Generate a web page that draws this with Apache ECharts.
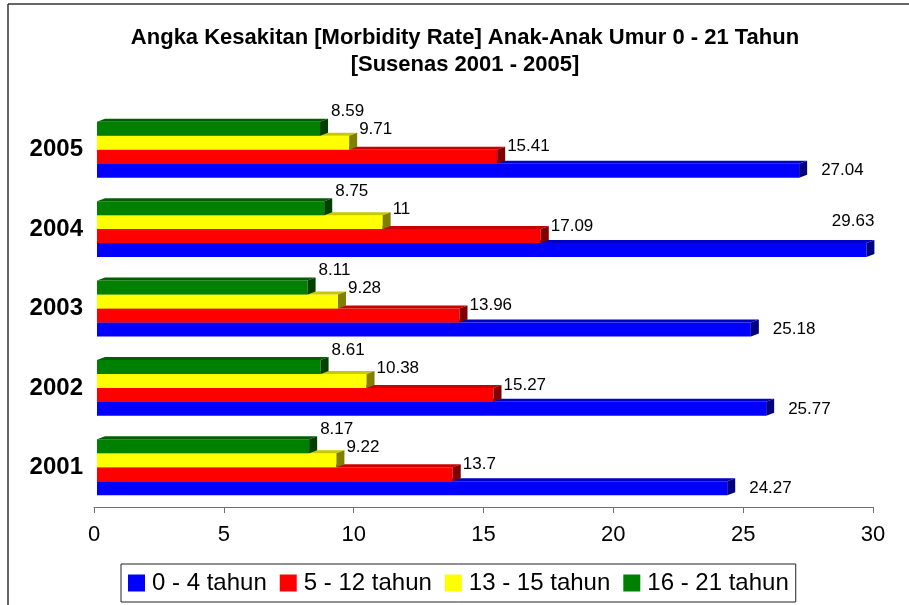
<!DOCTYPE html>
<html>
<head>
<meta charset="utf-8">
<script src="https://cdn.jsdelivr.net/npm/echarts@6/dist/echarts.min.js"></script>
<style>
  html, body { margin: 0; padding: 0; background: #fff; }
  #chart { width: 909px; height: 605px; }
</style>
</head>
<body>
<div id="chart"></div>
<script>
// data
const years = ['2001', '2002', '2003', '2004', '2005']
const ageGroups = ['0 - 4 tahun', '5 - 12 tahun', '13 - 15 tahun', '16 - 21 tahun']
const age0to4 = [24.27, 25.77, 25.18, 29.63, 27.04]
const age5to12 = [13.7, 15.27, 13.96, 17.09, 15.41]
const age13to15 = [9.22, 10.38, 9.28, 11, 9.71]
const age16to21 = [8.17, 8.61, 8.11, 8.75, 8.59]
const xTicks = { min: 0, max: 30, interval: 5 }

const FONT = '"Liberation Sans", Arial, sans-serif'
const palette = [
  { front: '#0000ff', top: '#0000c8', side: '#000080' },
  { front: '#ff0000', top: '#c80000', side: '#800000' },
  { front: '#ffff00', top: '#c8c800', side: '#808000' },
  { front: '#008000', top: '#006000', side: '#004000' }
]
// label offset from bar end, per series (like excel put them)
const labelShift = [[22, 0], [10, -10], [10, -13], [11, -17]]
const DX = 8
const DY = 3

function bar3d(k) {
  return function (params, api) {
    const cat = api.value(1)
    const v = api.value(0)
    const p0 = api.coord([0, cat])
    const p1 = api.coord([v, cat])
    const band = api.size([0, 1])[1]
    const h = band * 0.176
    const yb = p0[1] + 2 * h - k * h
    const yt = yb - h
    const x0 = p0[0] + 3
    const x1 = p1[0] + 3
    const c = palette[k]
    let lx = x1 + labelShift[k][0]
    let ly = (yt + yb) / 2 + labelShift[k][1]
    let align = 'left'
    if (lx + 44 > api.getWidth() - 4) {
      // no room on the right, put it above
      lx = x1 + DX
      ly = (yt + yb) / 2 - 29
      align = 'right'
    }
    return {
      type: 'group',
      children: [
        { type: 'rect', shape: { x: x0, y: yt, width: x1 - x0, height: h }, style: { fill: c.front } },
        { type: 'polygon', shape: { points: [[x0, yt], [x0 + DX, yt - DY], [x1 + DX, yt - DY], [x1, yt]] }, style: { fill: c.top } },
        { type: 'polygon', shape: { points: [[x1, yt], [x1 + DX, yt - DY], [x1 + DX, yb - DY], [x1, yb]] }, style: { fill: c.side } },
        { type: 'text', z2: 10, style: { text: String(v), x: lx, y: ly, fill: '#000', font: '17px ' + FONT, align: align, verticalAlign: 'middle' } }
      ]
    }
  }
}

const seriesValues = [age0to4, age5to12, age13to15, age16to21]
const series = seriesValues.map((vals, k) => ({
  name: ageGroups[k],
  type: 'custom',
  renderItem: bar3d(k),
  itemStyle: { color: palette[k].front },
  encode: { x: 0, y: 1 },
  data: vals.map((v, i) => [v, i]),
  z: 2 + k
}))

const chart = echarts.init(document.getElementById('chart'))
chart.setOption({
  animation: false,
  backgroundColor: '#fff',
  title: {
    text: 'Angka Kesakitan [Morbidity Rate] Anak-Anak Umur 0 - 21 Tahun\n[Susenas 2001 - 2005]',
    left: 460,
    top: 19,
    textAlign: 'center',
    textStyle: { fontFamily: FONT, fontSize: 22, fontWeight: 'bold', color: '#000', lineHeight: 27 }
  },
  grid: { left: 94, right: 36, top: 110, bottom: 98 },
  xAxis: {
    type: 'value',
    min: xTicks.min,
    max: xTicks.max,
    interval: xTicks.interval,
    axisLine: { show: true, lineStyle: { color: '#707070', width: 1 } },
    axisTick: { show: true, length: 6, lineStyle: { color: '#707070' } },
    splitLine: { show: false },
    axisLabel: { fontFamily: FONT, fontSize: 22, color: '#000', margin: 17 }
  },
  yAxis: {
    type: 'category',
    data: years,
    axisLine: { show: false },
    axisTick: { show: false },
    axisLabel: { fontFamily: FONT, fontSize: 24, fontWeight: 'bold', color: '#000', margin: 11 }
  },
  legend: {
    left: 121,
    top: 564,
    icon: 'rect',
    itemWidth: 17,
    itemHeight: 17,
    itemGap: 13,
    padding: [7, 7],
    borderColor: '#222',
    borderWidth: 1,
    textStyle: { fontFamily: FONT, fontSize: 24, color: '#000', padding: [0, 0, 0, 2] },
    data: ageGroups
  },
  graphic: [
    { type: 'line', shape: { x1: 8, y1: 4, x2: 909, y2: 4 }, style: { stroke: '#333', lineWidth: 1.5 } },
    { type: 'line', shape: { x1: 8, y1: 4, x2: 8, y2: 605 }, style: { stroke: '#333', lineWidth: 1.5 } }
  ],
  series: series
})
</script>
</body>
</html>
